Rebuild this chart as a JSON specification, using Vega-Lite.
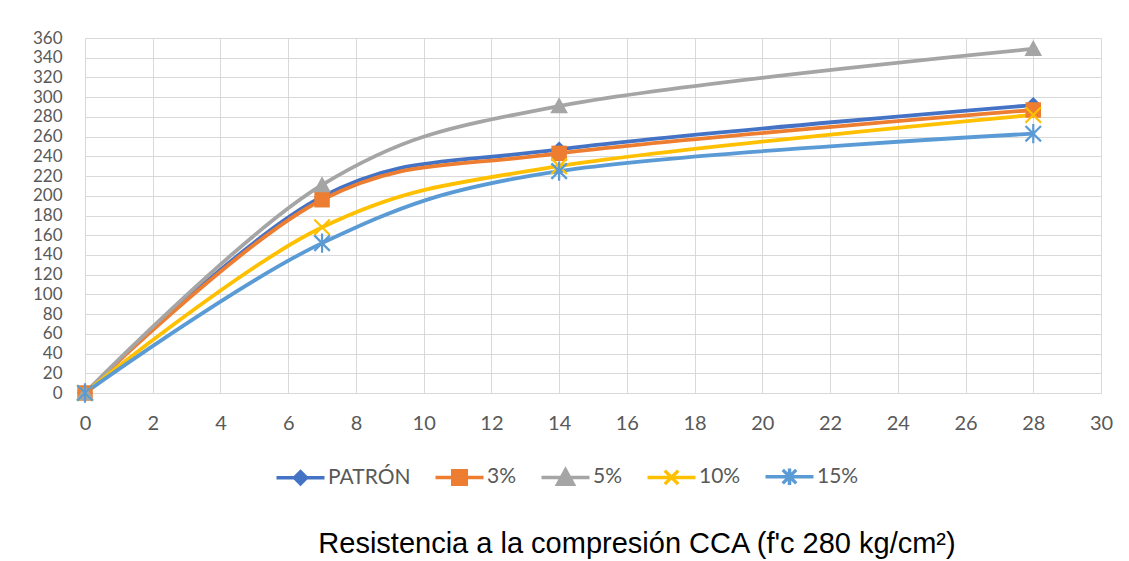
{
  "$schema": "https://vega.github.io/schema/vega-lite/v6.json",
  "width": 1016,
  "height": 355,
  "autosize": {"type": "none"},
  "padding": {"left": 85, "top": 38, "right": 28, "bottom": 168},
  "background": "white",
  "config": {
    "view": {"stroke": null},
    "axis": {"gridColor": "#d9d9d9", "gridWidth": 1, "domainColor": "#d9d9d9", "ticks": false, "labelFont": "Lato", "labelFontSize": 20, "labelColor": "#595959", "title": null, "labelOverlap": false}
  },
  "title": {
    "text": "Resistencia a la compresión CCA (f'c 280 kg/cm²)",
    "orient": "bottom",
    "anchor": "middle",
    "font": "Liberation Sans",
    "fontSize": 29,
    "fontWeight": "normal",
    "color": "#000000",
    "dx": 44,
    "offset": 38
  },
  "data": {
    "values": [
      {"serie": "PATRÓN", "dia": 0, "valor": 0},
      {"serie": "PATRÓN", "dia": 7, "valor": 199},
      {"serie": "PATRÓN", "dia": 14, "valor": 247},
      {"serie": "PATRÓN", "dia": 28, "valor": 292},
      {"serie": "3%", "dia": 0, "valor": 0},
      {"serie": "3%", "dia": 7, "valor": 196},
      {"serie": "3%", "dia": 14, "valor": 243},
      {"serie": "3%", "dia": 28, "valor": 287},
      {"serie": "5%", "dia": 0, "valor": 0},
      {"serie": "5%", "dia": 7, "valor": 211},
      {"serie": "5%", "dia": 14, "valor": 291},
      {"serie": "5%", "dia": 28, "valor": 349},
      {"serie": "10%", "dia": 0, "valor": 0},
      {"serie": "10%", "dia": 7, "valor": 168},
      {"serie": "10%", "dia": 14, "valor": 230},
      {"serie": "10%", "dia": 28, "valor": 282},
      {"serie": "15%", "dia": 0, "valor": 0},
      {"serie": "15%", "dia": 7, "valor": 152},
      {"serie": "15%", "dia": 14, "valor": 225},
      {"serie": "15%", "dia": 28, "valor": 263}
    ]
  },
  "encoding": {
    "x": {"field": "dia", "type": "quantitative", "scale": {"domain": [0, 30], "nice": false},
      "axis": {"values": [0,2,4,6,8,10,12,14,16,18,20,22,24,26,28,30], "labelPadding": 20, "labelFlush": false}},
    "y": {"field": "valor", "type": "quantitative", "scale": {"domain": [0, 360], "nice": false},
      "axis": {"values": [0,20,40,60,80,100,120,140,160,180,200,220,240,260,280,300,320,340,360], "labelPadding": 23, "domain": false, "labelFlush": false, "labelFontSize": 17}}
  },
  "layer": [
    {
      "transform": [{"filter": "datum.dia < 0"}],
      "mark": {"type": "point", "filled": true, "opacity": 1, "strokeWidth": 3.5},
      "encoding": {
        "color": {"field": "serie", "type": "nominal",
          "scale": {"domain": ["PATRÓN", "3%", "5%", "10%", "15%"], "range": ["#4472C4", "#ED7D31", "#A5A5A5", "#FFC000", "#5B9BD5"]},
          "legend": {"orient": "none", "legendX": 205, "legendY": 428, "direction": "horizontal", "title": null,
            "symbolSize": 225, "symbolStrokeWidth": 3.5, "labelOffset": 17, "columnPadding": 17,
            "labelFont": "Lato", "labelFontSize": 21, "labelColor": "#595959", "symbolOpacity": 1}},
        "stroke": {"field": "serie", "type": "nominal",
          "scale": {"domain": ["PATRÓN", "3%", "5%", "10%", "15%"], "range": ["#4472C4", "#ED7D31", "#A5A5A5", "#FFC000", "#5B9BD5"]},
          "legend": {"orient": "none", "legendX": 205, "legendY": 428, "direction": "horizontal", "title": null}},
        "shape": {"field": "serie", "type": "nominal",
          "scale": {"domain": ["PATRÓN", "3%", "5%", "10%", "15%"],
            "range": [
              "M-3.2,0H3.2M0,-0.8L0.8,0L0,0.8L-0.8,0Z",
              "M-3.2,0H3.2M-0.9,-0.9H0.9V0.9H-0.9Z",
              "M-3.2,0H3.2M0,-1L1.05,0.9H-1.05Z",
              "M-3.2,0H3.2M-0.9,-0.9L0.9,0.9M-0.9,0.9L0.9,-0.9",
              "M-3.2,0H3.2M-0.9,-0.9L0.9,0.9M-0.9,0.9L0.9,-0.9M0,-1.1V1.1"
            ]},
          "legend": {"orient": "none", "legendX": 205, "legendY": 428, "direction": "horizontal", "title": null}}
      }
    },
    {
      "mark": {"type": "line", "interpolate": "cardinal", "strokeWidth": 3.8, "strokeCap": "round"},
      "encoding": {"color": {"field": "serie", "type": "nominal"}}
    },
    {
      "transform": [{"filter": "datum.serie == 'PATRÓN'"}],
      "mark": {"type": "point", "shape": "M0,-1L1,0L0,1L-1,0Z", "size": 256, "filled": true, "opacity": 1},
      "encoding": {"color": {"field": "serie", "type": "nominal"}}
    },
    {
      "transform": [{"filter": "datum.serie == '3%'"}],
      "mark": {"type": "point", "shape": "M-1,-1H1V1H-1Z", "size": 240, "filled": true, "opacity": 1},
      "encoding": {"color": {"field": "serie", "type": "nominal"}}
    },
    {
      "transform": [{"filter": "datum.serie == '5%'"}],
      "mark": {"type": "point", "shape": "M0,-1.1L1.1,0.9H-1.1Z", "size": 256, "filled": true, "opacity": 1},
      "encoding": {"color": {"field": "serie", "type": "nominal"}}
    },
    {
      "transform": [{"filter": "datum.serie == '10%'"}],
      "mark": {"type": "point", "shape": "M-1,-1L1,1M-1,1L1,-1", "size": 240, "filled": false, "strokeWidth": 2.2, "opacity": 1},
      "encoding": {"color": {"field": "serie", "type": "nominal"}}
    },
    {
      "transform": [{"filter": "datum.serie == '15%'"}],
      "mark": {"type": "point", "shape": "M-1,-1L1,1M-1,1L1,-1M0,-1.25V1.25", "size": 240, "filled": false, "strokeWidth": 2.2, "opacity": 1},
      "encoding": {"color": {"field": "serie", "type": "nominal"}}
    }
  ]
}
